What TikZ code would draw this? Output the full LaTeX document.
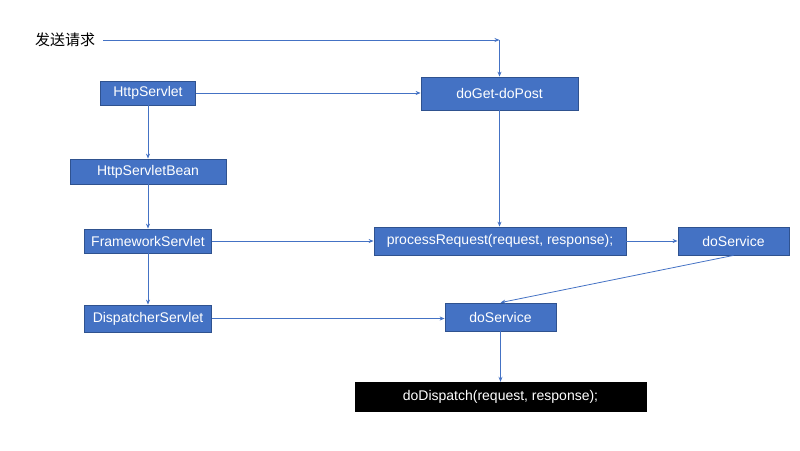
\documentclass[tikz,border=0pt]{standalone}
\usepackage{fontspec}
\setmainfont{Liberation Sans}
\newfontfamily\cjk{Noto Sans CJK SC}
\usetikzlibrary{arrows.meta}
\definecolor{boxblue}{HTML}{4472C4}
\definecolor{boxedge}{HTML}{2F528F}
\begin{document}
\begin{tikzpicture}[x=1pt,y=-1pt,
  box/.style={draw=boxedge,fill=boxblue,text=white,font=\fontsize{14}{16}\selectfont,inner sep=0pt,line width=0.8pt},
  arr/.style={draw=boxblue,line width=0.8pt,-{Stealth[length=5pt,width=4pt]}}]
\useasboundingbox (0,0) rectangle (800,450);
\node[box,minimum width=95,minimum height=24] (hs) at (148,93) {HttpServlet};
\node[box,minimum width=157,minimum height=33] (dg) at (499.5,93.5) {doGet-doPost};
\node[box,minimum width=156,minimum height=25] (hsb) at (148,171.5) {HttpServletBean};
\node[box,minimum width=127,minimum height=24] (fs) at (148,241) {FrameworkServlet};
\node[box,minimum width=252,minimum height=28] (pr) at (500,241) {processRequest(request, response);};
\node[box,minimum width=111,minimum height=28] (dsr) at (733.5,241) {doService};
\node[box,minimum width=127,minimum height=27] (ds) at (148,318.5) {DispatcherServlet};
\node[box,minimum width=111,minimum height=28] (dsm) at (500.5,317) {doService};
\node[draw=black,fill=black,text=white,font=\fontsize{14}{16}\selectfont,inner sep=0pt,minimum width=291,minimum height=29] (dd) at (500.5,396.5) {doDispatch(request, response);};
\node[font=\cjk\fontsize{15}{17}\selectfont,anchor=west,inner sep=0pt] (req) at (35,40) {发送请求};
\coordinate (corner) at (499.5,40);
\draw[arr] ([xshift=8pt]req.east) -- (corner);
\draw[arr] (corner) -- (dg.north);
\draw[arr] (hs.east) -- (hs.east -| dg.west);
\draw[arr] (hs.south) -- (hsb.north);
\draw[arr] (hsb.south) -- (fs.north);
\draw[arr] (fs.south) -- (ds.north);
\draw[arr] (fs.east) -- (pr.west);
\draw[arr] (dg.south) -- (dg.south |- pr.north);
\draw[arr] (pr.east) -- (dsr.west);
\draw[arr] (dsr.south) -- (dsm.north);
\draw[arr] (ds.east) -- (ds.east -| dsm.west);
\draw[arr] (dsm.south) -- (dsm.south |- dd.north);
\end{tikzpicture}
\end{document}
